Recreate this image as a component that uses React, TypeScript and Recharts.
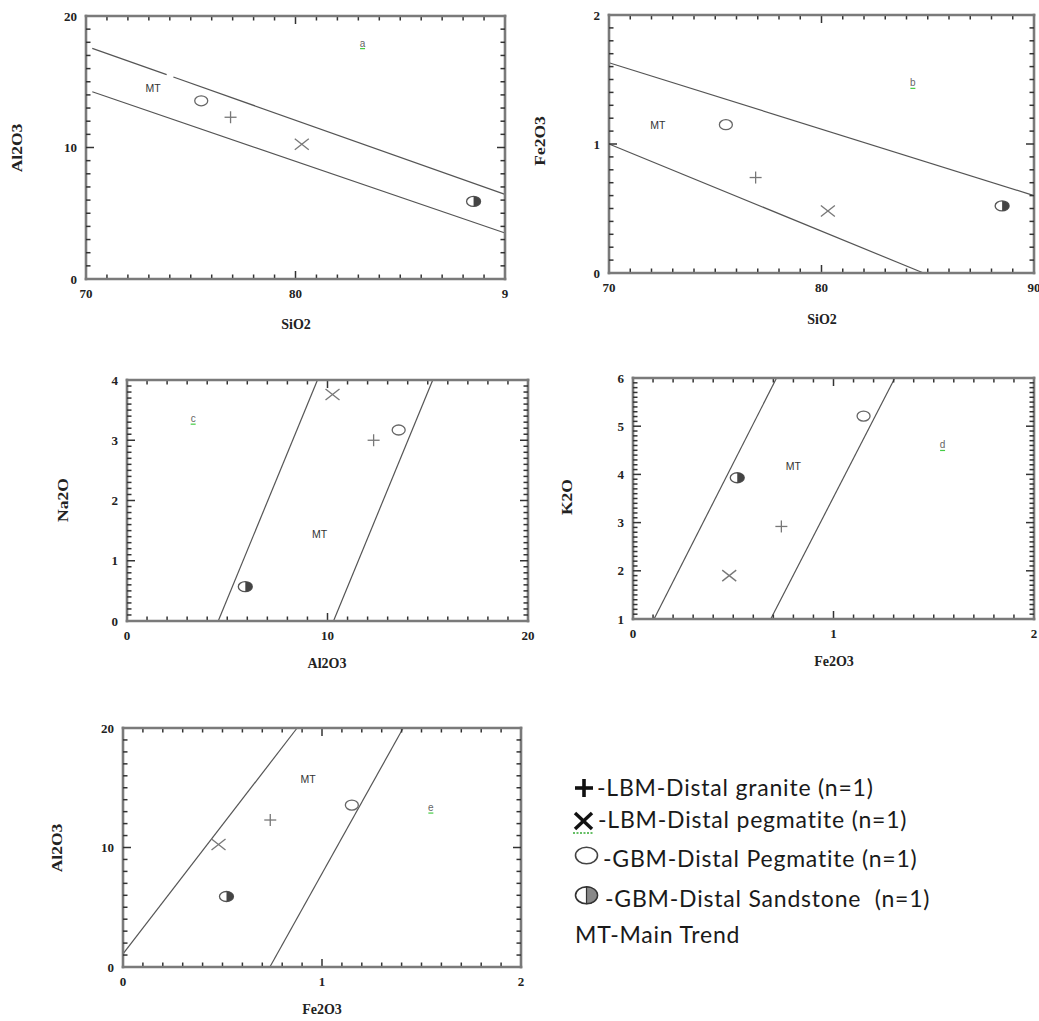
import React from 'react';
import { ScatterChart, Scatter, XAxis, YAxis, ReferenceLine } from 'recharts';

// samples (one point each)
const sampleNames = ['LBM-Distal granite', 'LBM-Distal pegmatite', 'GBM-Distal Pegmatite', 'GBM-Distal Sandstone'];
const sampleShapes = ['plus', 'cross', 'circle', 'half'];
const sio2 = [76.9, 80.3, 75.5, 88.5];
const al2o3 = [12.3, 10.25, 13.55, 5.9];
const fe2o3 = [0.74, 0.48, 1.15, 0.52];
const na2o = [3.0, 3.76, 3.17, 0.57];
const k2o = [2.92, 1.9, 5.21, 3.93];

// main trend boundary lines [[x1,y1],[x2,y2]]
const trendSiAl = [[[70.3, 17.54], [73.85, 15.54]], [[74.17, 15.36], [90, 6.44]], [[70.3, 14.24], [90, 3.5]]];
const trendSiFe = [[[70, 1.63], [90, 0.6]], [[70, 1.0], [84.8, 0]]];
const trendAlNa = [[[4.55, 0], [9.5, 4]], [[10.3, 0], [15.25, 4]]];
const trendFeK = [[[0.105, 1], [0.716, 6]], [[0.687, 1], [1.306, 6]]];
const trendFeAl = [[[0, 1.1], [0.875, 20]], [[0.738, 0], [1.408, 20]]];

// panel letters and MT label spots
const fieldLetters = ['a', 'b', 'c', 'd', 'e'];
const fieldX = [83.2, 84.3, 3.3, 1.544, 1.547];
const fieldY = [17.9, 1.47, 3.35, 4.6, 13.3];
const mtX = [73.2, 72.3, 9.6, 0.8, 0.93];
const mtY = [14.5, 1.15, 1.45, 4.17, 15.7];

// ticks
const siTicks = [70, 80, 90];
const siLabelsA = ['70', '80', '9'];
const siLabelsB = ['70', '80', '90'];
const alTicks = [0, 10, 20];
const alLabels = ['0', '10', '20'];
const feTicks = [0, 1, 2];
const feLabels = ['0', '1', '2'];
const naTicks = [0, 1, 2, 3, 4];
const naLabels = ['0', '1', '2', '3', '4'];
const kTicks = [1, 2, 3, 4, 5, 6];
const kLabels = ['1', '2', '3', '4', '5', '6'];

const legendLabels = [
  '-LBM-Distal granite (n=1)',
  '-LBM-Distal pegmatite (n=1)',
  '-GBM-Distal Pegmatite (n=1)',
  '-GBM-Distal Sandstone  (n=1)',
  'MT-Main Trend',
];

const FRAME = '#7a7a7a';
const TICK = '#333';
const SERIF = '"Liberation Serif", "Times New Roman", serif';
const SANS = '"Liberation Sans", Arial, sans-serif';

function steps(domain: number[], step: number) {
  const n = Math.round((domain[1] - domain[0]) / step);
  const out: number[] = [];
  for (let i = 0; i <= n; i++) out.push(Number((domain[0] + i * step).toFixed(4)));
  return out;
}

function Marker({ cx, cy, kind }: { cx: number; cy: number; kind: string }) {
  if (kind === 'plus') {
    return (
      <g stroke="#777" strokeWidth={1.3}>
        <line x1={cx - 6} y1={cy} x2={cx + 6} y2={cy} />
        <line x1={cx} y1={cy - 6} x2={cx} y2={cy + 6} />
      </g>
    );
  }
  if (kind === 'cross') {
    return (
      <g stroke="#777" strokeWidth={1.3}>
        <line x1={cx - 7} y1={cy - 5.5} x2={cx + 7} y2={cy + 5.5} />
        <line x1={cx - 7} y1={cy + 5.5} x2={cx + 7} y2={cy - 5.5} />
      </g>
    );
  }
  if (kind === 'circle') {
    return <ellipse cx={cx} cy={cy} rx={6.5} ry={5} fill="#fff" stroke="#666" strokeWidth={1.3} />;
  }
  return (
    <g>
      <ellipse cx={cx} cy={cy} rx={7} ry={5} fill="#fff" stroke="#555" strokeWidth={1.3} />
      <path d={`M ${cx} ${cy - 5} A 7 5 0 0 1 ${cx} ${cy + 5} Z`} fill="#444" />
    </g>
  );
}

type PanelDef = {
  box: number[];
  xs: number[];
  ys: number[];
  xDomain: number[];
  yDomain: number[];
  xTicks: number[];
  xLabels: string[];
  xStep: number;
  yTicks: number[];
  yLabels: string[];
  yStep: number;
  lines: number[][][];
  idx: number;
  xTitle: string;
  yTitle: string;
  xTitleAt: number[];
  yTitleAt: number[];
};

const L = 40;
const T = 10;
const R = 14;
const B = 30;

function Panel({ p }: { p: PanelDef }) {
  const [left, top, right, bottom] = p.box;
  const plotW = right - left;
  const plotH = bottom - top;
  const near = (a: number, b: number) => Math.abs(a - b) < 1e-6;

  const xTick = (props: any) => {
    const { x, y, payload } = props;
    const v = payload.value;
    const i = p.xTicks.findIndex((t) => near(t, v));
    const len = i >= 0 ? 8 : 4.5;
    const edge = near(v, p.xDomain[0]) || near(v, p.xDomain[1]);
    return (
      <g>
        {edge ? (
          <line x1={x} y1={y + 1.3} x2={x} y2={y - plotH - 1.3} stroke={FRAME} strokeWidth={2.6} />
        ) : (
          <>
            <line x1={x} y1={y} x2={x} y2={y - len} stroke={TICK} strokeWidth={1.5} />
            <line x1={x} y1={y - plotH} x2={x} y2={y - plotH + len} stroke={TICK} strokeWidth={1.5} />
          </>
        )}
        {i >= 0 && (
          <text x={x} y={y + 19} textAnchor="middle" fontFamily={SERIF} fontWeight="bold" fontSize={13} fill="#222">
            {p.xLabels[i]}
          </text>
        )}
      </g>
    );
  };

  const yTick = (props: any) => {
    const { x, y, payload } = props;
    const v = payload.value;
    const i = p.yTicks.findIndex((t) => near(t, v));
    const len = i >= 0 ? 8 : 4.5;
    const edge = near(v, p.yDomain[0]) || near(v, p.yDomain[1]);
    return (
      <g>
        {edge ? (
          <line x1={x - 1.3} y1={y} x2={x + plotW + 1.3} y2={y} stroke={FRAME} strokeWidth={2.6} />
        ) : (
          <>
            <line x1={x} y1={y} x2={x + len} y2={y} stroke={TICK} strokeWidth={1.5} />
            <line x1={x + plotW} y1={y} x2={x + plotW - len} y2={y} stroke={TICK} strokeWidth={1.5} />
          </>
        )}
        {i >= 0 && (
          <text x={x - 9} y={y + 4.5} textAnchor="end" fontFamily={SERIF} fontWeight="bold" fontSize={13} fill="#222">
            {p.yLabels[i]}
          </text>
        )}
      </g>
    );
  };

  return (
    <>
      <div style={{ position: 'absolute', left: left - L, top: top - T }}>
        <ScatterChart width={L + plotW + R} height={T + plotH + B} margin={{ top: T, right: R, bottom: 0, left: 0 }}>
          <XAxis
            type="number"
            dataKey="x"
            domain={p.xDomain}
            allowDataOverflow
            ticks={steps(p.xDomain, p.xStep)}
            interval={0}
            height={B}
            axisLine={false}
            tickLine={false}
            tickSize={0}
            tickMargin={0}
            tick={xTick}
          />
          <YAxis
            type="number"
            dataKey="y"
            domain={p.yDomain}
            allowDataOverflow
            ticks={steps(p.yDomain, p.yStep)}
            interval={0}
            width={L}
            axisLine={false}
            tickLine={false}
            tickSize={0}
            tickMargin={0}
            tick={yTick}
          />
          {p.lines.map((seg, k) => (
            <ReferenceLine
              key={k}
              segment={[
                { x: seg[0][0], y: seg[0][1] },
                { x: seg[1][0], y: seg[1][1] },
              ]}
              stroke="#555"
              strokeWidth={1.2}
              ifOverflow="visible"
            />
          ))}
          {sampleNames.map((name, i) => (
            <Scatter
              key={name}
              name={name}
              data={[{ x: p.xs[i], y: p.ys[i] }]}
              isAnimationActive={false}
              shape={(s: any) => <Marker cx={s.cx} cy={s.cy} kind={sampleShapes[i]} />}
            />
          ))}
          <Scatter
            name="MT"
            data={[{ x: mtX[p.idx], y: mtY[p.idx] }]}
            isAnimationActive={false}
            shape={(s: any) => (
              <text x={s.cx} y={s.cy + 4} textAnchor="middle" fontFamily={SANS} fontSize={10.5} fill="#333">
                MT
              </text>
            )}
          />
          <Scatter
            name="field"
            data={[{ x: fieldX[p.idx], y: fieldY[p.idx] }]}
            isAnimationActive={false}
            shape={(s: any) => (
              <g>
                <text x={s.cx} y={s.cy + 3} textAnchor="middle" fontFamily={SANS} fontSize={10} fill="#666">
                  {fieldLetters[p.idx]}
                </text>
                <line x1={s.cx - 2.5} y1={s.cy + 5} x2={s.cx + 2.5} y2={s.cy + 5} stroke="#4c4" strokeWidth={1.2} />
              </g>
            )}
          />
        </ScatterChart>
      </div>
      <div
        style={{
          position: 'absolute',
          left: p.xTitleAt[0],
          top: p.xTitleAt[1],
          transform: 'translate(-50%, -50%)',
          fontFamily: SERIF,
          fontWeight: 'bold',
          fontSize: 14,
          color: '#222',
          whiteSpace: 'nowrap',
        }}
      >
        {p.xTitle}
      </div>
      <div
        style={{
          position: 'absolute',
          left: p.yTitleAt[0],
          top: p.yTitleAt[1],
          transform: 'translate(-50%, -50%) rotate(-90deg) scaleX(1.25)',
          fontFamily: SERIF,
          fontWeight: 'bold',
          fontSize: 14,
          color: '#222',
          whiteSpace: 'nowrap',
        }}
      >
        {p.yTitle}
      </div>
    </>
  );
}

const panels: PanelDef[] = [
  {
    box: [86, 16, 505, 279], xs: sio2, ys: al2o3, xDomain: [70, 90], yDomain: [0, 20],
    xTicks: siTicks, xLabels: siLabelsA, xStep: 1, yTicks: alTicks, yLabels: alLabels, yStep: 1,
    lines: trendSiAl, idx: 0, xTitle: 'SiO2', yTitle: 'Al2O3', xTitleAt: [296, 325], yTitleAt: [18, 148],
  },
  {
    box: [609, 15, 1034, 273], xs: sio2, ys: fe2o3, xDomain: [70, 90], yDomain: [0, 2],
    xTicks: siTicks, xLabels: siLabelsB, xStep: 1, yTicks: feTicks, yLabels: feLabels, yStep: 0.1,
    lines: trendSiFe, idx: 1, xTitle: 'SiO2', yTitle: 'Fe2O3', xTitleAt: [822, 320], yTitleAt: [541, 141],
  },
  {
    box: [127, 380, 528, 621], xs: al2o3, ys: na2o, xDomain: [0, 20], yDomain: [0, 4],
    xTicks: alTicks, xLabels: alLabels, xStep: 1, yTicks: naTicks, yLabels: naLabels, yStep: 0.1,
    lines: trendAlNa, idx: 2, xTitle: 'Al2O3', yTitle: 'Na2O', xTitleAt: [327, 664], yTitleAt: [64, 500],
  },
  {
    box: [633, 378, 1034, 619], xs: fe2o3, ys: k2o, xDomain: [0, 2], yDomain: [1, 6],
    xTicks: feTicks, xLabels: feLabels, xStep: 0.1, yTicks: kTicks, yLabels: kLabels, yStep: 0.1,
    lines: trendFeK, idx: 3, xTitle: 'Fe2O3', yTitle: 'K2O', xTitleAt: [834, 662], yTitleAt: [568, 497],
  },
  {
    box: [123, 728, 521, 967], xs: fe2o3, ys: al2o3, xDomain: [0, 2], yDomain: [0, 20],
    xTicks: feTicks, xLabels: feLabels, xStep: 0.1, yTicks: alTicks, yLabels: alLabels, yStep: 1,
    lines: trendFeAl, idx: 4, xTitle: 'Fe2O3', yTitle: 'Al2O3', xTitleAt: [322, 1010], yTitleAt: [58, 848],
  },
];

const legendRows = [
  { x: 597, base: 796 },
  { x: 598, base: 828 },
  { x: 603, base: 867 },
  { x: 605, base: 907 },
  { x: 575, base: 943 },
];

function LegendBlock() {
  return (
    <svg width={1039} height={1021} style={{ position: 'absolute', left: 0, top: 0, pointerEvents: 'none' }}>
      <g stroke="#111" strokeWidth={3.6}>
        <line x1={575} y1={788} x2={593} y2={788} />
        <line x1={584} y1={779} x2={584} y2={797} />
      </g>
      <g stroke="#111" strokeWidth={3.4}>
        <line x1={575} y1={813} x2={592} y2={829} />
        <line x1={592} y1={813} x2={575} y2={829} />
      </g>
      <line x1={573} y1={833} x2={594} y2={833} stroke="#3a3" strokeWidth={1.5} strokeDasharray="2 1.5" />
      <ellipse cx={586.5} cy={855.5} rx={11} ry={8.2} fill="#fff" stroke="#444" strokeWidth={1.6} />
      <ellipse cx={586.5} cy={895.3} rx={11} ry={8.4} fill="#fff" stroke="#333" strokeWidth={1.6} />
      <path d="M 586.5 886.9 A 11 8.4 0 0 1 586.5 903.7 Z" fill="#888" stroke="#333" strokeWidth={1.2} />
      {legendLabels.map((t, i) => (
        <text
          key={t}
          x={legendRows[i].x}
          y={legendRows[i].base}
          fontFamily='Lato, "Open Sans", sans-serif'
          fontSize={23}
          letterSpacing={0.8}
          fill="#1a1a1a"
          xmlSpace="preserve"
        >
          {t}
        </text>
      ))}
    </svg>
  );
}

export default function App() {
  return (
    <div style={{ position: 'absolute', left: 0, top: 0, width: 1039, height: 1021, overflow: 'hidden', background: '#fff' }}>
      {panels.map((p) => (
        <Panel key={p.idx} p={p} />
      ))}
      <LegendBlock />
    </div>
  );
}
